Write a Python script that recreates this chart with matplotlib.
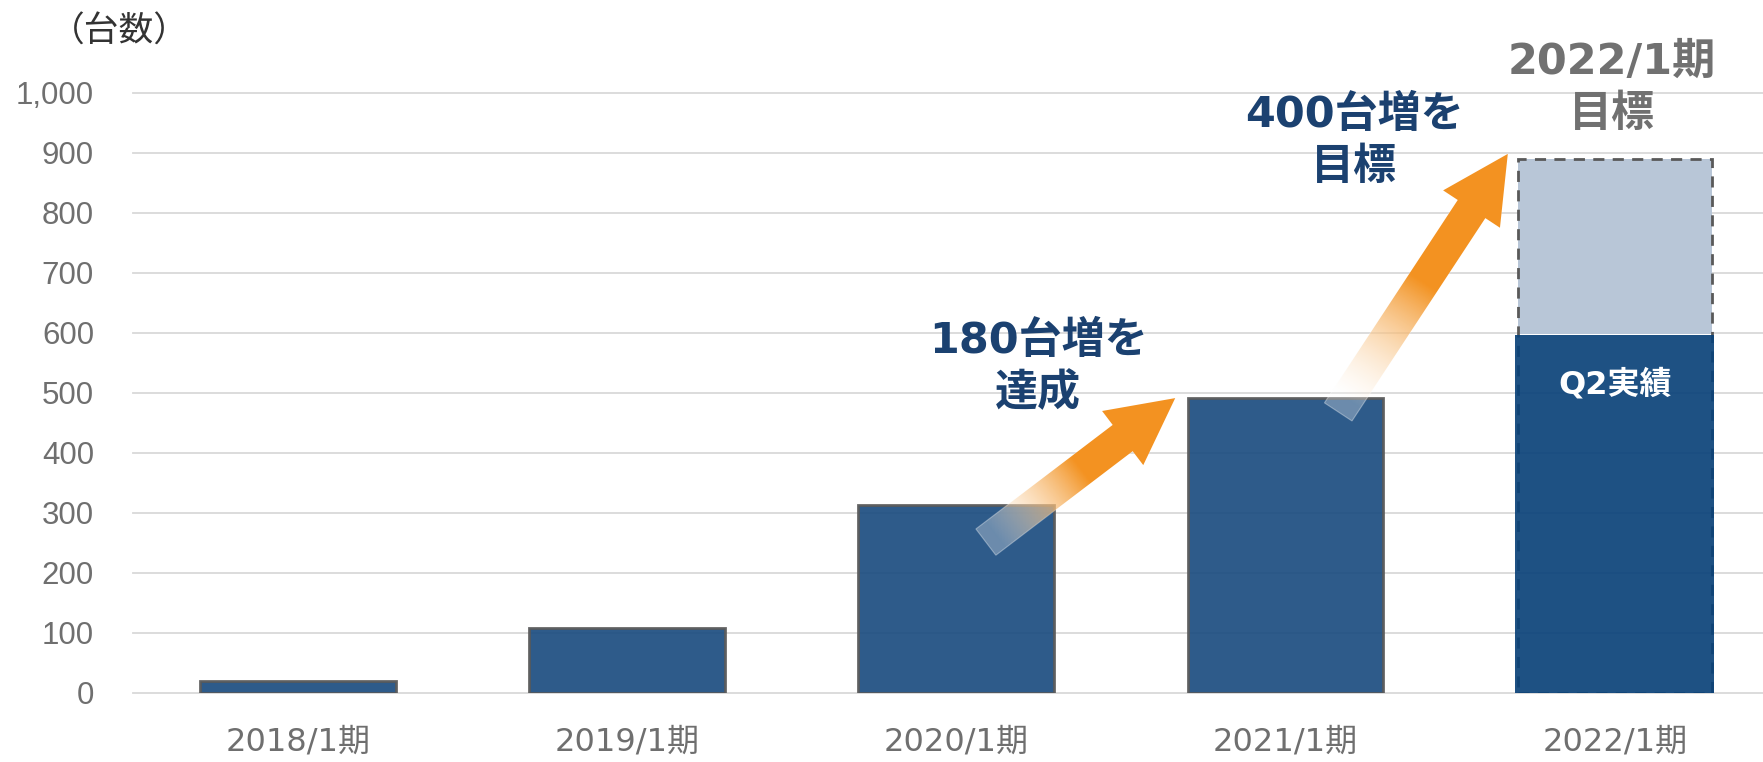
import numpy as np
import matplotlib
matplotlib.use("Agg")
import matplotlib.pyplot as plt
from matplotlib.patches import Polygon
from matplotlib.ticker import FuncFormatter

plt.rcParams['font.family'] = ['DejaVu Sans', 'Noto Sans CJK JP']

periods = ["2018/1期", "2019/1期", "2020/1期", "2021/1期", "2022/1期"]
results = [20, 108, 313, 492, 597]   # 2022 is the Q2 actual
target_2022 = 890
y_ticks = [0, 100, 200, 300, 400, 500, 600, 700, 800, 900, 1000]

# annotation arrows: (tail x, tail y, tip x, tip y) in data units
arrow_specs = [(2.09, 251, 2.665, 491), (3.16, 468, 3.675, 898)]

W, H = 1763, 762
fig = plt.figure(figsize=(W / 100, H / 100), dpi=100)
ax = fig.add_axes([133 / W, 69.3 / H, (W - 133) / W, 600 / H])
x = np.arange(len(periods))

ax.bar(x[:4], results[:4], width=0.595, color="#1C4D80", edgecolor="#595959",
       linewidth=2, alpha=0.92, zorder=2)
# 2022 target: light fill above the actual, dashed outline over full height
ax.bar(x[4], target_2022 - results[4], bottom=results[4], width=0.59,
       color="#B8C6D7", linewidth=0, zorder=2)
ax.bar(x[4], target_2022, width=0.59, facecolor="none", edgecolor="#595959",
       linestyle=(0, (4, 3)), linewidth=2, zorder=2)
ax.bar(x[4], results[4], width=0.605, color="#0A4279", alpha=0.92, zorder=3,
       linewidth=0)

ax.set_xlim(-0.5, 4.45)
ax.set_ylim(0, 1000)
ax.set_yticks(y_ticks)
ax.yaxis.set_major_formatter(FuncFormatter(lambda v, p: f"{int(v):,}"))
ax.set_xticks(x)
ax.set_xticklabels(periods)
ax.set_axisbelow(True)
ax.yaxis.grid(True, color="#D9D9D9", linewidth=1.3)
for gl in ax.get_ygridlines():
    gl.set_clip_on(False)
for s in ax.spines.values():
    s.set_visible(False)
ax.tick_params(axis="y", length=0, pad=28, labelsize=22.5, labelcolor="#6F6F6F")
ax.tick_params(axis="x", length=0, pad=24, labelsize=23, labelcolor="#6F6F6F")
for lab in ax.get_yticklabels():
    lab.set_fontfamily(["Liberation Sans", "DejaVu Sans"])


def gradient_arrow(ax, tail, tip, shaft=33, head_w=68, head_l=66):
    tr = ax.transData
    p0 = tr.transform(tail)
    p1 = tr.transform(tip)
    d = p1 - p0
    L = np.hypot(*d)
    u = d / L
    n = np.array([-u[1], u[0]])
    base = p1 - u * head_l
    pts = [p0 + n * shaft / 2, base + n * shaft / 2, base + n * head_w / 2, p1,
           base - n * head_w / 2, base - n * shaft / 2, p0 - n * shaft / 2]
    pts_data = tr.inverted().transform(np.array(pts))
    poly = Polygon(pts_data, closed=True, facecolor="none",
                   edgecolor=(1, 1, 1, 0.35), linewidth=0.8,
                   transform=ax.transData, zorder=4)
    ax.add_patch(poly)
    xmin, ymin = pts_data.min(0)
    xmax, ymax = pts_data.max(0)
    nx, ny = 300, 300
    GX, GY = np.meshgrid(np.linspace(xmin, xmax, nx), np.linspace(ymin, ymax, ny))
    disp = tr.transform(np.column_stack([GX.ravel(), GY.ravel()]))
    t = ((disp - p0) @ u) / L
    s = np.clip((t - 0.05) / 0.45, 0, 1).reshape(ny, nx)
    orange = np.array([0.953, 0.576, 0.133])
    rgba = np.zeros((ny, nx, 4))
    rgba[..., :3] = (1 - s[..., None]) + s[..., None] * orange
    rgba[..., 3] = 0.3 + 0.7 * s
    im = ax.imshow(rgba, extent=(xmin, xmax, ymin, ymax), origin="lower",
                   aspect="auto", zorder=4, interpolation="bilinear")
    im.set_clip_path(poly)


for tx, ty, hx, hy in arrow_specs:
    gradient_arrow(ax, (tx, ty), (hx, hy))
ax.set_xlim(-0.5, 4.45)
ax.set_ylim(0, 1000)

ax.text(2.249, 543, "180台増を\n達成", ha="center", va="center", fontsize=31,
        fontweight="bold", color="#1B4170", linespacing=1.3, zorder=5)
ax.text(3.208, 920, "400台増を\n目標", ha="center", va="center", fontsize=31,
        fontweight="bold", color="#1B4170", linespacing=1.3, zorder=5)
ax.text(3.991, 1008, "2022/1期\n目標", ha="center", va="center", fontsize=31,
        fontweight="bold", color="#717171", linespacing=1.3, zorder=5, clip_on=False)
ax.text(4.0, 513, "Q2実績", ha="center", va="center", fontsize=23,
        fontweight="bold", color="white", zorder=5)
fig.text(50 / W, 1 - 32 / H, "（台数）", ha="left", va="center", fontsize=25,
         color="#333333")

fig.savefig("out.png", dpi=100)
